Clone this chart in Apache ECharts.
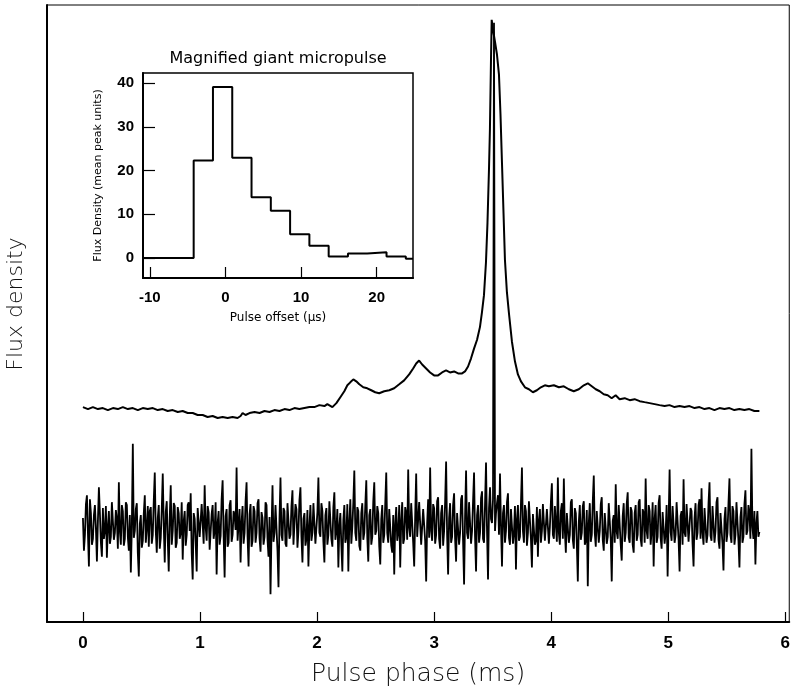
<!DOCTYPE html>
<html><head><meta charset="utf-8">
<script src="https://cdn.jsdelivr.net/npm/echarts@6/dist/echarts.min.js"></script>
<style>html,body{margin:0;padding:0;background:#fff}#c{width:793px;height:692px}</style>
</head><body><div id="c"></div>
<script>
// ---- main panel: tick labels ----
const phaseTicks = [0, 1, 2, 3, 4, 5, 6];

// ---- mean pulse profile (phase in ms, flux in arbitrary units) ----
const profilePhase = [0.000,0.043,0.085,0.128,0.170,0.213,0.256,0.298,0.341,0.384,
0.426,0.469,0.511,0.554,0.597,0.639,0.682,0.724,0.767,0.810,
0.852,0.895,0.938,0.980,1.023,1.065,1.108,1.151,1.193,1.236,
1.278,1.321,1.347,1.364,1.389,1.423,1.466,1.509,1.551,1.594,
1.636,1.679,1.722,1.764,1.807,1.849,1.892,1.935,1.977,2.020,
2.063,2.088,2.131,2.165,2.199,2.233,2.259,2.284,2.310,2.335,
2.361,2.395,2.429,2.463,2.497,2.531,2.574,2.617,2.659,2.702,
2.744,2.787,2.821,2.847,2.872,2.898,2.932,2.966,3.000,3.034,
3.068,3.102,3.136,3.171,3.205,3.239,3.264,3.290,3.315,3.341,
3.367,3.392,3.409,3.426,3.443,3.456,3.469,3.477,3.486,3.492,
3.503,3.520,3.537,3.554,3.567,3.580,3.593,3.605,3.622,3.640,
3.665,3.691,3.716,3.742,3.776,3.810,3.844,3.878,3.912,3.946,
3.980,4.023,4.066,4.108,4.151,4.193,4.236,4.279,4.313,4.347,
4.381,4.415,4.449,4.483,4.517,4.551,4.585,4.628,4.671,4.713,
4.756,4.798,4.841,4.884,4.926,4.969,5.011,5.054,5.097,5.139,
5.182,5.225,5.267,5.310,5.352,5.395,5.438,5.480,5.523,5.565,
5.608,5.651,5.693,5.736,5.779];
const profileFlux = [217,215,217,215,216,214,216,215,217,215,
216,214,216,215,216,214,215,213,214,212,
213,211,211,209,209,207,208,206,207,206,
207,206,208,211,209,211,212,211,213,212,
214,213,215,214,216,215,216,217,217,219,
218,220,217,221,227,233,239,242,245,243,
240,237,236,234,232,231,233,234,236,240,
244,250,256,261,264,260,256,252,249,249,
252,254,252,253,251,251,253,258,266,276,
285,298,313,330,363,403,458,498,568,608,
598,586,573,553,513,463,413,366,333,311,
283,263,250,243,237,235,232,234,237,239,
238,239,237,238,235,233,235,239,241,238,
235,233,230,229,226,229,225,226,224,225,
223,222,221,220,219,218,219,217,218,217,
218,216,217,215,216,214,216,215,216,214,
215,214,215,213,213];

// ---- single pulse with giant micropulse (uniformly sampled over the phase range) ----
const pulseStartMs = 0.0;
const pulseEndMs = 5.779;
const pulseFlux = [
105,72,88,119,128,90,56,124,110,78,84,108,118,95,61,102,136,110,80,66,
115,84,92,117,65,96,112,79,86,121,120,83,90,113,104,74,141,92,78,118,
112,77,84,121,118,86,72,108,50,96,180,85,92,114,120,70,46,99,108,75,
82,110,128,80,95,117,76,112,116,79,88,123,151,92,70,105,118,74,85,114,
150,97,60,111,122,83,51,106,138,78,92,120,117,75,80,116,110,84,90,121,
63,102,112,77,88,118,121,92,130,70,43,110,104,80,51,115,116,86,85,119,
120,79,138,96,82,117,111,73,74,109,118,84,92,121,48,100,112,78,87,124,
143,88,45,107,114,76,80,118,123,81,88,112,108,93,156,82,84,114,60,101,
117,79,90,122,141,86,56,109,119,76,82,117,112,80,90,120,124,85,71,111,
105,78,86,121,118,83,66,106,28,92,138,81,90,118,116,72,35,104,146,88,
82,115,112,79,76,120,120,84,88,117,133,78,80,119,114,75,92,123,136,86,
60,104,110,77,84,113,56,96,118,82,90,120,122,79,78,111,146,90,86,120,
112,81,60,108,115,78,88,122,121,84,76,116,131,83,92,114,55,97,110,78,
51,103,118,80,86,119,51,101,124,79,96,121,153,90,82,116,112,77,72,110,
120,83,90,118,143,85,61,108,114,78,86,122,141,88,92,117,110,76,58,104,
118,80,88,120,151,90,80,114,112,77,70,108,48,99,116,82,90,118,55,102,
121,79,84,116,110,83,154,95,86,120,118,80,56,107,150,86,88,121,120,78,
76,114,112,82,41,100,124,85,156,92,82,119,115,79,88,122,126,84,74,110,
118,77,92,121,162,88,48,105,120,80,86,118,130,84,61,110,112,78,90,124,
128,82,38,107,153,90,84,121,120,79,92,122,151,86,51,108,118,80,90,125,
132,84,80,119,161,92,43,115,136,104,100,124,605,92,110,120,128,88,150,97,
56,110,118,80,92,121,130,85,78,114,116,79,90,117,53,104,118,82,86,120,
156,92,80,118,112,77,90,122,121,84,55,109,110,78,82,116,66,103,114,80,
92,119,118,82,80,114,112,79,96,121,140,88,84,117,116,81,146,90,78,112,
120,84,145,92,70,110,112,80,88,121,124,83,74,115,110,79,41,101,118,83,
90,117,122,78,82,113,36,100,120,81,88,122,148,90,76,112,114,80,92,119,
126,83,72,110,112,79,86,120,118,84,41,102,108,80,139,91,84,118,116,78,
62,107,120,81,90,119,131,85,80,116,112,78,70,110,118,82,88,121,124,84,
76,114,110,80,145,92,84,118,112,78,92,121,56,104,118,80,86,120,128,85,
74,111,110,79,90,118,46,102,154,91,82,117,116,80,88,121,122,83,51,107,
112,78,144,90,86,119,118,81,80,115,112,79,56,105,120,83,90,118,124,84,
135,90,78,115,114,80,88,120,141,87,82,117,118,80,92,121,126,83,74,110,
110,79,52,104,116,81,90,120,145,88,80,117,112,78,88,121,120,82,55,106,
116,80,86,119,133,88,92,118,110,84,175,96,84,112,58,100,112,86,91];

// ---- inset: magnified giant micropulse (step histogram) ----
const insetBinEdges = [-10.9, -4.2, -1.65, 0.9, 3.45, 6.0, 8.55, 11.1, 13.65, 16.2, 18.75, 21.3, 23.85, 24.8];
const insetBinFlux  = [0, 22.3, 39.1, 22.9, 13.9, 10.8, 5.4, 2.8, 0.3, 1.0, 1.3, 0.3, -0.2];
const insetXTicks = [-10, 0, 10, 20];
const insetYTicks = [0, 10, 20, 30, 40];

// ---- build series data ----
const profileData = profilePhase.map((p, i) => [p, profileFlux[i]]);
const pulseStep = (pulseEndMs - pulseStartMs) / (pulseFlux.length - 1);
const pulseData = pulseFlux.map((v, i) => [pulseStartMs + i * pulseStep, v]);
const insetData = insetBinEdges.map((e, i) => [e, insetBinFlux[Math.min(i, insetBinFlux.length - 1)]]);

const chart = echarts.init(document.getElementById('c'), null, {renderer: 'canvas'});
const tickFont = {fontFamily: 'Liberation Sans', fontWeight: 'bold', color: '#000'};
chart.setOption({
  animation: false,
  backgroundColor: '#fff',
  grid: [
    {left: 47, top: 5, width: 744, height: 623, show: true, borderColor: '#000', borderWidth: 1, containLabel: false},
    {left: 143, top: 73, width: 270, height: 205, show: true, borderColor: '#000', borderWidth: 1.5, backgroundColor: '#fff', containLabel: false}
  ],
  xAxis: [
    {type: 'value', gridIndex: 0, min: -0.307, max: 6.034,
     axisLine: {show: true, onZero: false, lineStyle: {color: '#000', width: 2}},
     axisTick: {show: true, inside: true, length: 10, customValues: phaseTicks, lineStyle: {color: '#000', width: 1.2}},
     axisLabel: {show: true, customValues: phaseTicks, margin: 13, fontSize: 17, ...tickFont},
     splitLine: {show: false},
     name: 'Pulse phase (ms)', nameLocation: 'middle', nameGap: 40,
     nameTextStyle: {fontFamily: 'DejaVu Sans', fontSize: 25, fontWeight: 300, color: '#111'}},
    {type: 'value', gridIndex: 1, min: -10.9, max: 24.8,
     axisLine: {show: true, onZero: false, lineStyle: {color: '#000', width: 2}},
     axisTick: {show: true, inside: true, length: 11, customValues: insetXTicks, lineStyle: {color: '#000', width: 1.2}},
     axisLabel: {show: true, customValues: insetXTicks, margin: 12, fontSize: 15, ...tickFont},
     splitLine: {show: false},
     name: 'Pulse offset (\u03bcs)', nameLocation: 'middle', nameGap: 34,
     nameTextStyle: {fontFamily: 'DejaVu Sans', fontSize: 12, color: '#000'}}
  ],
  yAxis: [
    {type: 'value', gridIndex: 0, min: 0, max: 623,
     axisLine: {show: true, onZero: false, lineStyle: {color: '#000', width: 2}},
     axisTick: {show: false}, axisLabel: {show: false}, splitLine: {show: false}},
    {type: 'value', gridIndex: 1, min: -4.6, max: 42.3,
     axisLine: {show: true, onZero: false, lineStyle: {color: '#000', width: 2}},
     axisTick: {show: true, inside: true, length: 12, customValues: insetYTicks, lineStyle: {color: '#000', width: 1.2}},
     axisLabel: {show: true, customValues: insetYTicks, margin: 9, fontSize: 15, ...tickFont},
     splitLine: {show: false},
     name: 'Flux Density (mean peak units)', nameLocation: 'middle', nameGap: 39,
     nameTextStyle: {fontFamily: 'DejaVu Sans', fontSize: 11, color: '#000'}}
  ],
  graphic: [
    {type: 'text', x: 16, y: 304, rotation: Math.PI / 2,
     style: {text: 'Flux density', fill: '#111', font: '300 22px "DejaVu Sans"', textAlign: 'center', textVerticalAlign: 'middle'}},
    {type: 'text', x: 278, y: 59,
     style: {text: 'Magnified giant micropulse', fill: '#000', font: '16px "DejaVu Sans"', textAlign: 'center', textVerticalAlign: 'middle'}}
  ],
  series: [
    {type: 'line', xAxisIndex: 0, yAxisIndex: 0, data: pulseData, symbol: 'none', silent: true,
     lineStyle: {color: '#000', width: 1.8}},
    {type: 'line', xAxisIndex: 0, yAxisIndex: 0, data: profileData, symbol: 'none', silent: true,
     lineStyle: {color: '#000', width: 2}},
    {type: 'line', xAxisIndex: 1, yAxisIndex: 1, data: insetData, step: 'end', symbol: 'none', silent: true,
     lineStyle: {color: '#000', width: 2}}
  ]
});
</script></body></html>
